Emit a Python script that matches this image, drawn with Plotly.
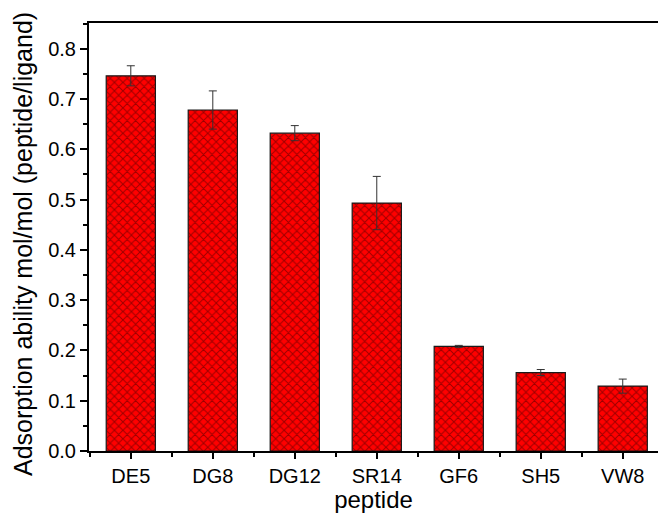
import plotly.graph_objects as go

categories = ["DE5", "DG8", "DG12", "SR14", "GF6", "SH5", "VW8"]
values = [0.746, 0.678, 0.632, 0.493, 0.208, 0.156, 0.129]
errors = [0.020, 0.038, 0.015, 0.053, 0.002, 0.006, 0.014]
y_ticks = [0.0, 0.1, 0.2, 0.3, 0.4, 0.5, 0.6, 0.7, 0.8]

FONT = "Liberation Sans, Arial, sans-serif"

fig = go.Figure()
fig.add_trace(go.Bar(
    x=list(range(len(categories))),
    y=values,
    width=0.6,
    marker=dict(
        color="#ff0000",
        line=dict(color="#1a1a1a", width=1.2),
        pattern=dict(shape="x", size=6, solidity=0.3, fgcolor="#3a0000", bgcolor="#ff0000"),
    ),
    error_y=dict(type="data", array=errors, visible=True, color="#333333", thickness=1, width=4),
))

fig.update_layout(
    width=658, height=513,
    margin=dict(l=89, r=0, t=23, b=62),
    paper_bgcolor="white", plot_bgcolor="white",
    font=dict(family=FONT, color="black"),
    showlegend=False,
    xaxis=dict(
        range=[-0.51, 6.43],
        tickmode="array",
        tickvals=list(range(len(categories))),
        ticktext=categories,
        ticks="outside", ticklen=6, tickwidth=1.5, tickcolor="black",
        minor=dict(tickmode="array", tickvals=[i + 0.5 for i in range(-1, len(categories))],
                   ticks="outside", ticklen=4, tickwidth=1.5, tickcolor="black"),
        showline=True, linecolor="black", linewidth=2, mirror=True,
        showgrid=False, zeroline=False,
        tickfont=dict(size=20, family=FONT),
        title=dict(text="peptide", font=dict(size=24, family=FONT), standoff=4),
    ),
    yaxis=dict(
        range=[0, 0.851],
        tickmode="array",
        tickvals=y_ticks,
        ticktext=[f"{v:.1f}" for v in y_ticks],
        ticks="outside", ticklen=7, tickwidth=1.5, tickcolor="black",
        minor=dict(tickmode="array", tickvals=[v + 0.05 for v in y_ticks],
                   ticks="outside", ticklen=4, tickwidth=1.5, tickcolor="black"),
        showline=True, linecolor="black", linewidth=2, mirror=False,
        showgrid=False, zeroline=False,
        tickfont=dict(size=20, family=FONT),
    ),
    annotations=[dict(
        text="Adsorption ability mol/mol (peptide/ligand)",
        xref="paper", yref="paper", x=0, y=0.5,
        xanchor="center", yanchor="middle", xshift=-66, yshift=-7,
        textangle=-90, showarrow=False,
        font=dict(size=25, family=FONT, color="black"),
    )],
)

fig.write_html("out.html")
